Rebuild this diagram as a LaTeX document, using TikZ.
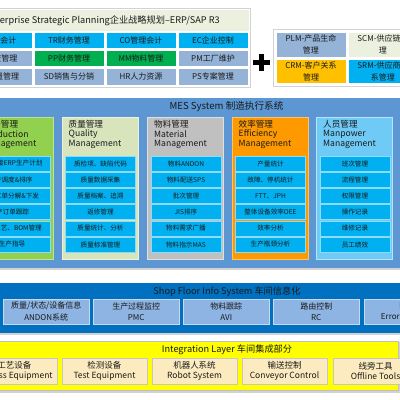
\documentclass[tikz,border=0pt]{standalone}
\usepackage{fontspec}
\setmainfont{Noto Sans CJK SC}
\definecolor{cyanC}{HTML}{00B0F0}
\definecolor{greenC}{HTML}{00B050}
\definecolor{lblue}{HTML}{95B3D7}
\definecolor{hdrgreen}{HTML}{EBF1DE}
\definecolor{goldC}{HTML}{FFC000}
\definecolor{mesblue}{HTML}{5C97D3}
\definecolor{prodgreen}{HTML}{92D050}
\definecolor{qualgreen}{HTML}{D8E4BC}
\definecolor{matgrey}{HTML}{C0C0C0}
\definecolor{efforange}{HTML}{FF9900}
\definecolor{manblue}{HTML}{70CAF6}
\definecolor{sfblue}{HTML}{0070C0}
\definecolor{sfcell}{HTML}{8DB4E2}
\definecolor{yellowC}{HTML}{FFFF00}
\definecolor{creamC}{HTML}{FDEBC0}
\definecolor{txt}{HTML}{1A1A1A}
\begin{document}
\begin{tikzpicture}[x=1pt,y=-1pt,
  box/.style={anchor=north west,inner sep=0pt,outer sep=0pt,text=txt},
  erpcell/.style={box,minimum height=16.5pt,minimum width=70pt,font=\fontsize{8}{9}\selectfont,draw=white,line width=0.6pt},
  rcell/.style={box,minimum height=25pt,minimum width=70pt,font=\fontsize{8}{11.5}\selectfont,align=center,draw=white,line width=0.6pt},
  mescol/.style={box,minimum width=76pt,minimum height=142pt,line width=0.8pt},
  mescell/.style={box,minimum width=70pt,minimum height=15pt,fill=cyanC,draw=cyanC!45!white,line width=0.6pt,font=\fontsize{6.6}{7}\selectfont},
  hdrtxt/.style={anchor=west,inner sep=0pt,text=txt,font=\fontsize{8.6}{9}\selectfont},
  sfcellst/.style={box,minimum width=85.5pt,minimum height=25pt,fill=sfcell,draw=sfcell!50!white,line width=0.6pt,align=center,font=\fontsize{8}{11.5}\selectfont},
  igcell/.style={box,minimum width=85pt,minimum height=26pt,fill=creamC,draw=gray!45,line width=0.6pt,align=center,font=\fontsize{8.5}{10.5}\selectfont},
  ttl/.style={inner sep=0pt,text=txt,font=\fontsize{9.2}{10}\selectfont}]
\useasboundingbox (0,0) rectangle (400,400);
\clip (0,0) rectangle (400,400);
\fill[white] (0,0) rectangle (400,400);

% ---------- ERP block ----------
\draw[gray!35,fill=white] (-40,8.5) rectangle (250,87);
\fill[hdrgreen] (-40,10) rectangle (249,31);
\node[ttl,anchor=east] (erpt) at (220,20.5) {Enterprise Strategic Planning企业战略规划–ERP/SAP R3};
\node[erpcell,fill=cyanC] (e11) at (-38,32) {FI财务会计};
\node[erpcell,fill=cyanC] (e12) at (34,32) {TR财务管理};
\node[erpcell,fill=cyanC] (e13) at (106,32) {CO管理会计};
\node[erpcell,fill=cyanC] (e14) at (178,32) {EC企业控制};
\node[erpcell,fill=lblue] (e21) at (-38,50) {IM投资管理};
\node[erpcell,fill=greenC] (e22) at (34,50) {PP财务管理};
\node[erpcell,fill=greenC] (e23) at (106,50) {MM物料管理};
\node[erpcell,fill=lblue] (e24) at (178,50) {PM工厂维护};
\node[erpcell,fill=lblue] (e31) at (-38,68.5) {QM质量管理};
\node[erpcell,fill=lblue] (e32) at (34,68.5) {SD销售与分销};
\node[erpcell,fill=lblue] (e33) at (106,68.5) {HR人力资源};
\node[erpcell,fill=lblue] (e34) at (178,68.5) {PS专案管理};

% plus sign
\draw[line width=5pt] (253,62.5) -- (270,62.5);
\draw[line width=5pt] (261.5,54) -- (261.5,71);

% ---------- right block ----------
\draw[gray!35,fill=white] (273.5,29.5) rectangle (405,86);
\node[rcell,fill=lblue] (plm) at (276,32) {PLM-产品生命\\管理};
\node[rcell,fill=hdrgreen] (scm) at (348,32) {SCM-供应链管\\理};
\node[rcell,fill=goldC,minimum height=24.5pt] (crm) at (276,59) {CRM-客户关系\\管理};
\node[rcell,fill=cyanC,minimum height=24.5pt] (srm) at (348,59) {SRM-供应商关\\系管理};

% ---------- MES block ----------
\fill[gray!35] (-5,98.5) rectangle (405,270);
\fill[mesblue] (-5,97.5) rectangle (405,267.5);
\node[ttl,font=\fontsize{9.6}{10}\selectfont] (mest) at (226.5,107) {MES System 制造执行系统};

\node[mescol,fill=prodgreen,draw=prodgreen!60!white] (c1) at (-23,117) {};
\node[mescol,fill=qualgreen,draw=qualgreen!50!white] (c2) at (62,117) {};
\node[mescol,fill=matgrey,draw=matgrey!50!white] (c3) at (147.5,117) {};
\node[mescol,fill=efforange,draw=efforange!60!white] (c4) at (232,117) {};
\node[mescol,fill=manblue,draw=manblue!50!white] (c5) at (316.5,117) {};

\foreach \n/\x/\a/\b/\c in {1/-23/生产管理/Production/Management,
  2/62/质量管理/Quality/Management,
  3/147.5/物料管理/Material/Management,
  4/232/效率管理/Efficiency/Management,
  5/316.5/人员管理/Manpower/Management}{
  \node[hdrtxt] (h\n a) at (\x+6.5,124.5) {\a};
  \node[hdrtxt] (h\n b) at (\x+6.5,134.5) {\b};
  \node[hdrtxt] (h\n c) at (\x+6.5,144.5) {\c};
}

% column 1 cells (clipped at left)
\foreach \i/\t/\e in {0/对接ERP生产计划/42.7,1/生产调度\&排序/32.7,2/工单分解\&下发/39.3,3/生产订单跟踪/29.3,4/工艺、BOM管理/42,5/电子生产指导/25.5}{
  \node[mescell] (m1\i) at (-20,156+16.2*\i) {};
  \node[anchor=east,inner sep=0pt,text=txt,font=\fontsize{6.6}{7}\selectfont] (m1\i t) at (\e,163.5+16.2*\i) {\t};
}
\foreach \i/\t in {0/质检项、缺陷代码,1/质量数据采集,2/质量档案、追溯,3/返修管理,4/质量统计、分析,5/质量标准管理}{
  \node[mescell] (m2\i) at (65.5,156+16.2*\i) {\t};
}
\foreach \i/\t in {0/物料ANDON,1/物料配送SPS,2/批次管理,3/JIS排序,4/物料需求广播,5/物料指示MAS}{
  \node[mescell] (m3\i) at (151,156+16.2*\i) {\t};
}
\foreach \i/\t in {0/产量统计,1/故障、停机统计,2/FTT、JPH,3/整体设备效率OEE,4/效率分析,5/生产瓶颈分析}{
  \node[mescell] (m4\i) at (235.5,156+16.2*\i) {\t};
}
\foreach \i/\t in {0/班次管理,1/流程管理,2/权限管理,3/操作记录,4/维修记录,5/员工绩效}{
  \node[mescell] (m5\i) at (320,156+16.2*\i) {\t};
}

% ---------- Shop floor ----------
\fill[gray!35] (-5,283.5) rectangle (405,335);
\fill[sfblue] (-5,282.5) rectangle (405,332.5);
\node[ttl] (sft) at (227,291.5) {Shop Floor Info System 车间信息化};
\node[sfcellst] (s1) at (3.5,299) {质量/状态/设备信息\\ANDON系统};
\node[sfcellst] (s2) at (93.5,299) {生产过程监控\\PMC};
\node[sfcellst] (s3) at (183.5,299) {物料跟踪\\AVI};
\node[sfcellst] (s4) at (273.5,299) {路由控制\\RC};
\node[sfcellst] (s5) at (364.5,299) {防错\\Error Proofing};

% ---------- Integration layer ----------
\fill[gray!35] (-5,342) rectangle (405,393);
\draw[gray!50,fill=yellowC,line width=0.6pt] (-5,341) rectangle (398.5,390.5);
\node[ttl] (igt) at (227,350) {Integration Layer 车间集成部分};
\node[igcell] (g1) at (-28,358) {工艺设备\\Process Equipment};
\node[igcell] (g2) at (62,358) {检测设备\\Test Equipment};
\node[igcell] (g3) at (152,358) {机器人系统\\Robot System};
\node[igcell] (g4) at (242,358) {输送控制\\Conveyor Control};
\node[igcell] (g5) at (333,358) {线旁工具\\Offline Tools};
\end{tikzpicture}
\end{document}
